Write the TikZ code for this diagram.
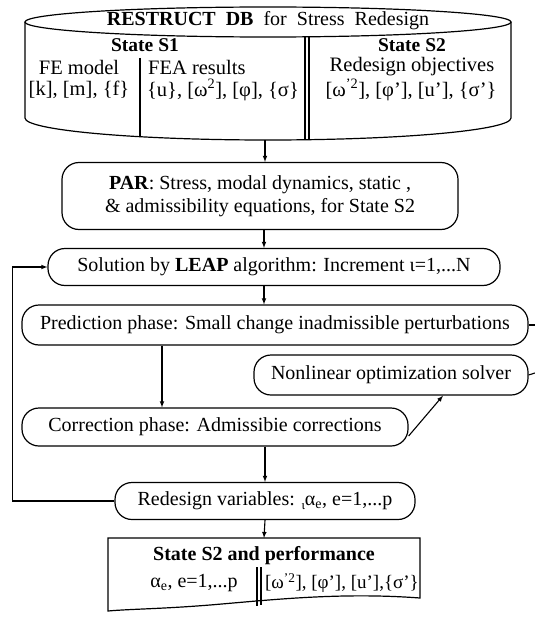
\documentclass[tikz,border=0pt]{standalone}
\usepackage{fontspec}
\setmainfont{Liberation Serif}
\begin{document}
\begin{tikzpicture}[x=1pt,y=-1pt]

  \tikzstyle{phase} = [draw, line width=1.2, rounded corners=17, inner sep=0, font=\fontsize{20}{23}\selectfont]
  \tikzstyle{dbtext} = [font=\fontsize{20.5}{22}\selectfont, inner sep=0]
  \tikzstyle{flow} = [line width=1.1, -latex]

  \useasboundingbox (0,0) rectangle (535,618);

  % RESTRUCT data base
  \draw[line width=1.2] (268,22) ellipse [x radius=243, y radius=15];
  \draw[line width=1.2] (25,22) -- (25,118) arc [start angle=180, end angle=0, x radius=243, y radius=22] -- (511,22);
  \draw[line width=1.1] (305,37) -- (305,140) (309,37) -- (309,140);
  \draw[line width=1.1] (140,58) -- (140,137);
  \coordinate (dbbot) at (265,140);

  \node[dbtext, font=\fontsize{20}{22}\selectfont] (dbtitle) at (268,21) {\textbf{RESTRUCT\ \ DB}\ \ for\ \ Stress\ \ Redesign};
  \node[dbtext, font=\fontsize{19.5}{22}\selectfont] (s1) at (145,45) {\textbf{State S1}};
  \node[dbtext] (fem) at (79,67) {FE model};
  \node[dbtext] (femval) at (79,90) {[k], [m], \{f\}};
  \node[dbtext, anchor=west] (fea) at (148,67) {FEA results};
  \node[dbtext] (feaval) at (223,90) {\{u\}, [ω\textsuperscript{2}], [φ], \{σ\}};
  \node[dbtext, font=\fontsize{19.5}{22}\selectfont] (s2) at (412,45) {\textbf{State S2}};
  \node[dbtext] (obj) at (412,67) {Redesign objectives};
  \node[dbtext] (objval) at (411,90) {[ω\textsuperscript{'2}], [φ'], [u'], \{σ'\}};

  % flow
  \node[phase, minimum width=396pt, minimum height=67pt, align=center] (par) at (260,196)
    {\textbf{PAR}: Stress, modal dynamics, static ,\\ \& admissibility equations, for State S2};
  \node[phase, minimum width=452pt, minimum height=37pt] (solution) at (274,267)
    {Solution by \textbf{LEAP} algorithm: Increment ι=1,...N};
  \node[phase, minimum width=506pt, minimum height=40pt] (prediction) at (275,325)
    {Prediction phase: Small change inadmissible perturbations};
  \node[phase, minimum width=274pt, minimum height=40pt] (solver) at (391,375)
    {Nonlinear optimization solver};
  \node[phase, minimum width=386pt, minimum height=38pt] (correction) at (215,427)
    {Correction phase: Admissibie corrections};
  \node[phase, minimum width=300pt, minimum height=37pt] (redesign) at (265,501)
    {Redesign variables: \raisebox{-4pt}{\fontsize{13}{13}\selectfont ι}α\textsubscript{e}, e=1,...p};

  % State S2 output
  \draw[line width=1.2] (108,538) -- (420,538) -- (420,598)
    .. controls (340,592) and (270,600) .. (210,605) .. controls (160,609) and (130,609) .. (108,611) -- cycle;
  \draw[line width=1.1] (257,567) -- (257,606) (261,567) -- (261,605);
  \coordinate (statetop) at (264,538);
  \node[dbtext, font=\fontsize{20}{22}\selectfont] (outtitle) at (264,556) {\textbf{State S2 and performance}};
  \node[dbtext, font=\fontsize{20}{22}\selectfont] (outalpha) at (194,583) {α\textsubscript{e}, e=1,...p};
  \node[dbtext, font=\fontsize{19}{22}\selectfont] (outval) at (342,583) {[ω\textsuperscript{'2}], [φ'], [u'],\{σ'\}};

  \coordinate (predout) at (535,325);
  \coordinate (solvout) at (535,373);

  \draw[flow] (dbbot) -- (dbbot |- par.north);
  \draw[flow] (par.south -| 264,0) -- (solution.north -| 264,0);
  \draw[flow] (solution.south -| 264,0) -- (prediction.north -| 264,0);
  \draw[flow] ([xshift=-113pt]prediction.south) -- ([xshift=-113pt]prediction.south |- correction.north);
  \draw[flow] ([yshift=-9pt]correction.east) -- ([xshift=52pt]solver.south);
  \draw[flow] (correction.south -| redesign.south) -- (redesign.north);
  \draw[flow] (redesign.south) -- (statetop);
  \draw[flow] (redesign.west) -- ++(-102,0) |- (solution.west);
  \draw[line width=1.1] (prediction.east) -- (predout);
  \draw[line width=1.1] (solver.east) -- (solvout);

\end{tikzpicture}
\end{document}
